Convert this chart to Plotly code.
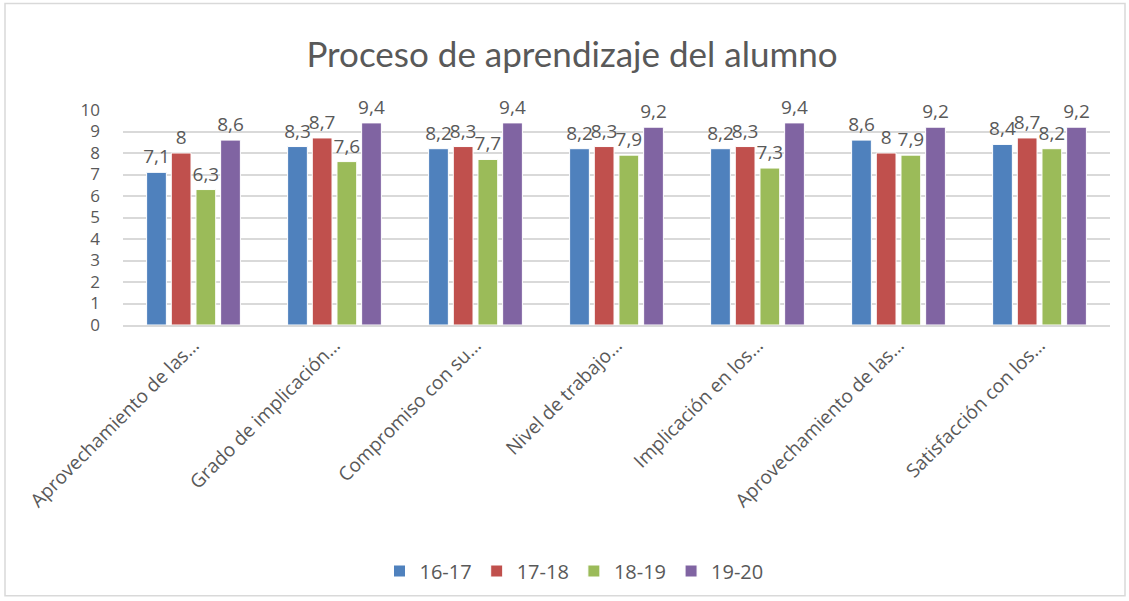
import plotly.graph_objects as go

categories = [
    "Aprovechamiento de las…",
    "Grado de implicación…",
    "Compromiso con su…",
    "Nivel de trabajo…",
    "Implicación en los…",
    "Aprovechamiento de las…",
    "Satisfacción con los…",
]
cat_ids = [f"c{i}" for i in range(len(categories))]
series_names = ["16-17", "17-18", "18-19", "19-20"]
v_16_17 = [7.1, 8.3, 8.2, 8.2, 8.2, 8.6, 8.4]
v_17_18 = [8.0, 8.7, 8.3, 8.3, 8.3, 8.0, 8.7]
v_18_19 = [6.3, 7.6, 7.7, 7.9, 7.3, 7.9, 8.2]
v_19_20 = [8.6, 9.4, 9.4, 9.2, 9.4, 9.2, 9.2]
colors = ["#4F81BD", "#C0504D", "#9BBB59", "#8064A2"]
y_ticks = list(range(0, 11))

FONT = "Open Sans"
GREY = "#595959"

def fmt(v):
    s = f"{v:g}"
    return s.replace(".", ",")

fig = go.Figure()
for name, vals, col in zip(series_names, [v_16_17, v_17_18, v_18_19, v_19_20], colors):
    fig.add_trace(go.Bar(
        name=name, x=cat_ids, y=vals,
        marker=dict(color=col, line=dict(color="white", width=1)),
        text=[fmt(v) for v in vals], textposition="outside",
        textfont=dict(family=FONT, size=19, color=GREY),
        constraintext="none", textangle=0,
        cliponaxis=False,
    ))

W, H = 1129, 601
ml, mr, mt, mb = 123, 19, 110, 275
pw = W - ml - mr
ph = H - mt - mb

fig.update_layout(
    width=W, height=H,
    margin=dict(l=ml, r=mr, t=mt, b=mb, pad=0),
    paper_bgcolor="white", plot_bgcolor="white",
    barmode="group", bargap=0.3, bargroupgap=0.2,
    title=dict(text="Proceso de aprendizaje del alumno", x=(572 - ml) / pw, xref="paper",
               xanchor="center", y=1 - 55 / H, yanchor="middle",
               font=dict(family="Lato", size=35, color=GREY)),
    legend=dict(orientation="h", x=(574 - ml) / pw, xanchor="center",
                y=-(571 - mt - ph) / ph, yanchor="middle",
                font=dict(family=FONT, size=20, color=GREY),
                itemwidth=30, traceorder="normal"),
    showlegend=True,
    font=dict(family=FONT, color=GREY),
)
fig.update_xaxes(
    tickmode="array", tickvals=cat_ids, ticktext=categories,
    tickangle=-45, tickfont=dict(family=FONT, size=19, color=GREY),
    showgrid=False, showline=True, linecolor="#D9D9D9", linewidth=1.5,
    ticks="", automargin=False,
)
fig.update_yaxes(
    range=[0, 10], tickmode="array", tickvals=y_ticks,
    tickfont=dict(family=FONT, size=17, color=GREY),
    showgrid=True, gridcolor="#D9D9D9", gridwidth=1.5,
    zeroline=False, showline=False, ticks="", ticklabelstandoff=22,
    automargin=False,
)
# chart border
fig.add_shape(type="rect", xref="paper", yref="paper",
              x0=-(ml - 5) / pw, x1=1 + (mr - 4) / pw,
              y0=-(mb - 3) / ph, y1=1 + (mt - 3) / ph,
              line=dict(color="#D9D9D9", width=1.5), fillcolor="rgba(0,0,0,0)", layer="below")

fig.write_html("out.html", config={"displayModeBar": False},
               post_script="document.body.style.margin='0px';")
